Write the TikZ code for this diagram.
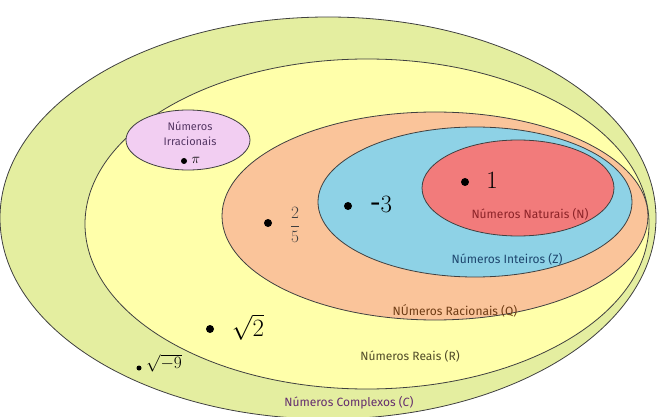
\documentclass[tikz,border=0pt]{standalone}
\usepackage{fontspec}
\setmainfont{Fira Sans}
\usepackage{amsmath}
\usetikzlibrary{shapes.geometric}
\definecolor{cgreen}{RGB}{228,238,160}
\definecolor{cyellow}{RGB}{255,255,170}
\definecolor{corange}{RGB}{250,196,154}
\definecolor{cblue}{RGB}{142,210,230}
\definecolor{cred}{RGB}{242,123,123}
\definecolor{cpink}{RGB}{242,206,242}
\definecolor{tred}{RGB}{140,35,40}
\definecolor{tblue}{RGB}{30,70,110}
\definecolor{tbrown}{RGB}{110,60,20}
\definecolor{tolive}{RGB}{80,75,40}
\definecolor{tpurple}{RGB}{100,45,110}
\definecolor{tpink}{RGB}{85,55,100}
\begin{document}
\begin{tikzpicture}[x=1pt,y=-1pt,
  setline/.style={draw=black!75,line width=0.8pt},
  lbl/.style={font=\fontsize{12}{13}\selectfont,inner sep=0pt},
  num/.style={font=\fontsize{27}{28}\selectfont,inner sep=0pt},
  pt/.style={circle,fill=black,inner sep=0pt,minimum size=8pt}]
\useasboundingbox (0,0) rectangle (659,417);
\fill[white] (0,0) rectangle (659,417);
\begin{scope}
\clip (0,0) rectangle (659,417);
\draw[setline,fill=cgreen] (328,218) ellipse [x radius=328,y radius=201];
\draw[setline,fill=cyellow] (367,224) ellipse [x radius=282,y radius=165];
\draw[setline,fill=corange] (435,216) ellipse [x radius=213,y radius=104];
\draw[setline,fill=cblue] (475,202) ellipse [x radius=157,y radius=75];
\draw[setline,fill=cred] (518,188) ellipse [x radius=96,y radius=48];
\draw[setline,fill=cpink] (188,140) ellipse [x radius=62,y radius=30];
\end{scope}
% irracionais
\node[lbl,font=\fontsize{11}{12}\selectfont,text=tpink] (irr1) at (190,126) {Números};
\node[lbl,font=\fontsize{11}{12}\selectfont,text=tpink] (irr2) at (190,141) {Irracionais};
\node[pt,minimum size=6pt] (dpi) at (184,161) {};
\node[inner sep=0pt,font=\fontsize{15}{16}\selectfont] (pi) at (196,160) {$\pi$};
% naturais
\node[pt] (d1) at (465,182) {};
\node[num] (n1) at (492,180) {$1$};
\node[lbl,text=tred] (nat) at (530,214) {Números Naturais (N)};
% inteiros
\node[pt] (d3) at (348,206) {};
\node[num] (n3) at (381,204) {$\text{-}3$};
\node[lbl,text=tblue] (int) at (507,259) {Números Inteiros (Z)};
% racionais
\node[pt] (d25) at (268,223) {};
\node[inner sep=0pt,font=\fontsize{18}{19}\selectfont,text=black!75] (n25) at (295,225) {$\dfrac{2}{5}$};
\node[lbl,text=tbrown] (rac) at (455,311) {NÚmeros Racionais (Q)};
% reais
\node[pt] (ds2) at (210,329) {};
\node[inner sep=0pt,font=\fontsize{27}{28}\selectfont] (s2) at (248,327) {$\sqrt{2}$};
\node[lbl,text=tolive] (rea) at (410,356) {Números Reais (R)};
% complexos
\node[pt,minimum size=5pt] (ds9) at (139,368) {};
\node[inner sep=0pt,font=\fontsize{18}{19}\selectfont] (s9) at (164,363) {$\sqrt{-9}$};
\node[lbl,text=tpurple] (com) at (349,403) {Números Complexos (\textit{C})};
\end{tikzpicture}
\end{document}
